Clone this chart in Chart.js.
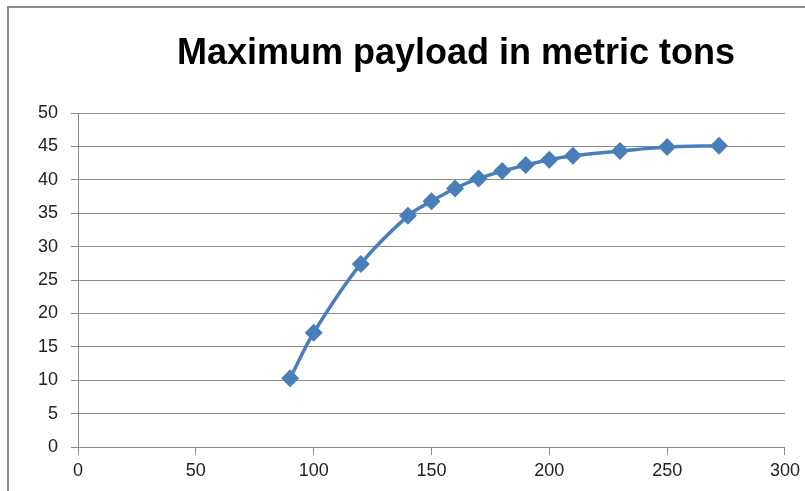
<!DOCTYPE html>
<html>
<head>
<meta charset="utf-8">
<script src="https://cdn.jsdelivr.net/npm/chart.js@4"></script>
<style>
  body { margin: 0; background: #fff; }
  #wrap { position: relative; width: 805px; height: 491px; }
  #frame { position: absolute; left: 7px; top: 6px; width: 820px; height: 500px;
           border-left: 2px solid #8c8c8c; border-top: 2px solid #8c8c8c; }
  canvas { position: absolute; left: 0; top: 0; }
</style>
</head>
<body>
<div id="wrap">
  <div id="frame"></div>
  <canvas id="payloadChart" width="805" height="491"></canvas>
</div>
<script>
// chart data
var titleText = 'Maximum payload in metric tons'
var xValues = [90, 100, 120, 140, 150, 160, 170, 180, 190, 200, 210, 230, 250, 272]
var payload = [10.3, 17.1, 27.4, 34.6, 36.8, 38.7, 40.2, 41.3, 42.2, 43.0, 43.6, 44.3, 44.9, 45.1]
var xTicks = [0, 50, 100, 150, 200, 250, 300]
var yTicks = [0, 5, 10, 15, 20, 25, 30, 35, 40, 45, 50]

var points = xValues.map(function (x, i) { return {x: x, y: payload[i]} })

var gridGray = '#8a8a8a'
var tickFont = {family: 'Liberation Sans, Arial, sans-serif', size: 18}

// title drawn a bit right of centre, like the original
var titlePlugin = {
    id: 'offsetTitle',
    afterDraw: function (chart) {
        var c = chart.ctx
        c.save()
        c.font = 'bold 36px "Liberation Sans", Arial, sans-serif'
        c.fillStyle = '#000'
        c.textAlign = 'center'
        c.textBaseline = 'alphabetic'
        c.fillText(titleText, 456, 64)
        c.restore()
    }
}

var ctx = document.getElementById('payloadChart').getContext('2d')
var chart = new Chart(ctx, {
    type: 'line',
    data: {
        datasets: [{
            label: 'payload',
            data: points,
            borderColor: '#4a7ebb',
            backgroundColor: '#4a7ebb',
            borderWidth: 3.5,
            tension: 0.35,
            pointStyle: 'rectRot',
            pointRadius: 9,
            pointHoverRadius: 9,
            pointBorderWidth: 0
        }]
    },
    options: {
        responsive: false,
        animation: false,
        layout: {padding: {left: 0, right: 15, top: 113, bottom: 0}},
        plugins: {legend: {display: false}, tooltip: {enabled: false}, title: {display: false}},
        scales: {
            x: {
                type: 'linear',
                min: 0, max: 300,
                afterBuildTicks: function (s) { s.ticks = xTicks.map(function (v) { return {value: v} }) },
                afterFit: function (s) { s.height = 44 },
                grid: {drawOnChartArea: false, drawTicks: true, tickLength: 8, color: gridGray},
                border: {color: gridGray, width: 1},
                ticks: {color: '#222', font: tickFont, padding: 5, maxRotation: 0}
            },
            y: {
                min: 0, max: 50,
                afterBuildTicks: function (s) { s.ticks = yTicks.map(function (v) { return {value: v} }) },
                afterFit: function (s) { s.width = 78 },
                grid: {color: gridGray, drawTicks: true, tickLength: 7},
                border: {color: gridGray, width: 1},
                ticks: {color: '#222', font: tickFont, padding: 13}
            }
        }
    },
    plugins: [titlePlugin]
});
</script>
</body>
</html>
